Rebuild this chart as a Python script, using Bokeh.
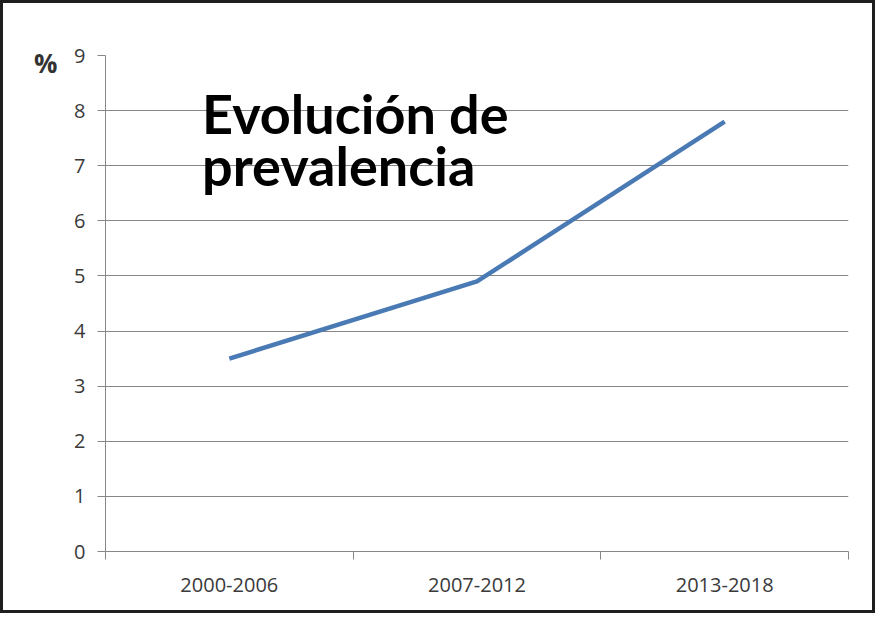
from bokeh.plotting import figure
from bokeh.models import Range1d, FixedTicker, Label, LinearAxis
from bokeh.embed import file_html
from bokeh.resources import INLINE

categories = ["2000-2006", "2007-2012", "2013-2018"]
prevalence = [3.5, 4.9, 7.8]
y_ticks = [0, 1, 2, 3, 4, 5, 6, 7, 8, 9]
title_text = "Evolución de\nprevalencia"
unit_text = "%"

xs = [i + 0.5 for i in range(len(categories))]

p = figure(width=875, height=613, output_backend="svg", toolbar_location=None,
           x_range=Range1d(0, len(categories)), y_range=Range1d(0, 9),
           min_border_left=102, min_border_right=30, min_border_top=52, min_border_bottom=65)
p.styles = {"border": "3px solid #1e1e1e", "box-sizing": "border-box"}
p.background_fill_color = "white"
p.border_fill_color = "white"
p.outline_line_color = None

gray = "#868686"
label_color = "#3a3a3a"

p.line(xs, prevalence, line_color="#4a7ab4", line_width=4.5)

# y axis
p.yaxis.ticker = FixedTicker(ticks=y_ticks)
p.yaxis.axis_line_color = gray
p.yaxis.major_tick_line_color = gray
p.yaxis.major_tick_out = 8
p.yaxis.major_tick_in = 0
p.yaxis.minor_tick_line_color = None
p.yaxis.major_label_standoff = 12
p.yaxis.major_label_text_font = "Open Sans"
p.yaxis.major_label_text_font_size = "20px"
p.yaxis.major_label_text_color = label_color

# unit label as an extra left axis with a single labelled tick
unit_pos = 8.86
unit_axis = LinearAxis(ticker=FixedTicker(ticks=[unit_pos]),
                       major_label_overrides={unit_pos: unit_text},
                       axis_line_color=None, major_tick_line_color=None,
                       minor_tick_line_color=None, major_tick_out=0, major_tick_in=0,
                       major_label_standoff=14,
                       major_label_text_font="Open Sans", major_label_text_font_size="26px",
                       major_label_text_font_style="bold", major_label_text_color="#333333")
p.add_layout(unit_axis, "left")

# x axis: boundaries as minor ticks, labels at centers
p.xaxis.ticker = FixedTicker(ticks=xs, minor_ticks=list(range(len(categories) + 1)))
p.xaxis.major_label_overrides = {x: c for x, c in zip(xs, categories)}
p.xaxis.axis_line_color = gray
p.xaxis.major_tick_line_color = None
p.xaxis.minor_tick_line_color = gray
p.xaxis.minor_tick_out = 8
p.xaxis.minor_tick_in = 0
p.xaxis.major_label_standoff = 18
p.xaxis.major_label_text_font = "Open Sans"
p.xaxis.major_label_text_font_size = "20px"
p.xaxis.major_label_text_color = label_color

p.xgrid.grid_line_color = None
p.ygrid.ticker = FixedTicker(ticks=y_ticks)
p.ygrid.grid_line_color = gray
p.ygrid.grid_line_width = 1.2

lines = title_text.split("\n")
title_y = [7.95, 7.0]
for t, ty in zip(lines, title_y):
    p.add_layout(Label(x=0.39, y=ty, text=t, text_font="Lato", text_font_size="54px",
                       text_font_style="bold", text_color="black", text_align="left",
                       text_baseline="alphabetic"))

open("out.html", "w").write(file_html(p, INLINE))
